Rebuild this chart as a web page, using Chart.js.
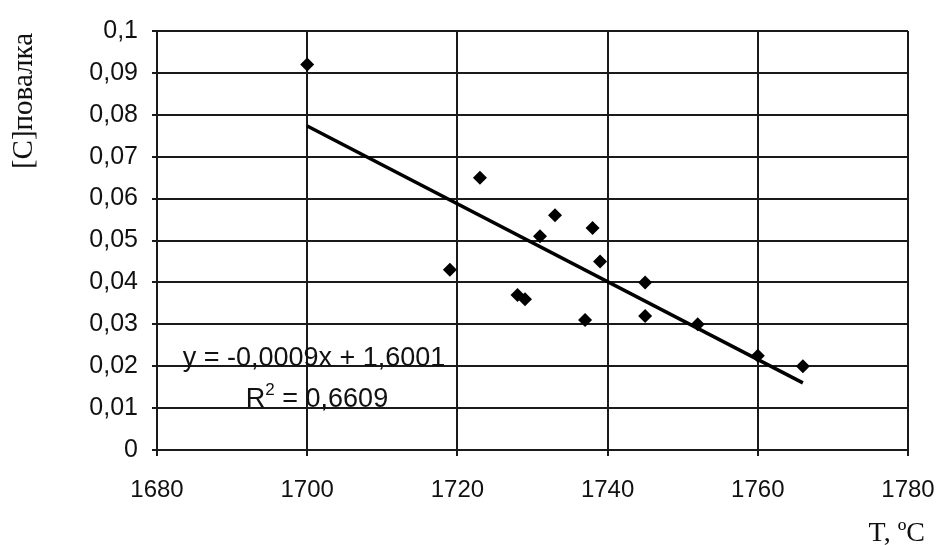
<!DOCTYPE html>
<html>
<head>
<meta charset="utf-8">
<script src="https://cdn.jsdelivr.net/npm/chart.js@4/dist/chart.umd.min.js"></script>
<style>
  html, body { margin: 0; padding: 0; background: #fff; }
  canvas { display: block; }
</style>
</head>
<body>
<canvas id="myChart" width="939" height="545"></canvas>
<script>
// temperature, deg C
const tempX = [1700, 1719, 1723, 1728, 1729, 1731, 1733, 1737, 1738, 1739, 1745, 1745, 1752, 1760, 1766]
// carbon in the sample
const carbonY = [0.092, 0.043, 0.065, 0.037, 0.036, 0.051, 0.056, 0.031, 0.053, 0.045, 0.040, 0.032, 0.030, 0.0225, 0.020]

const xTicks = [1680, 1700, 1720, 1740, 1760, 1780]
const yTicks = [0, 0.01, 0.02, 0.03, 0.04, 0.05, 0.06, 0.07, 0.08, 0.09, 0.1]

const yTitle = '[C]повалка'
const xTitle = 'T, ºC'
const eqText = 'y = -0,0009x + 1,6001'
const r2Base = 'R'
const r2Sup = '2'
const r2Rest = ' = 0,6609'

// linear trend (least squares) through the points
const n = tempX.length
const mx = tempX.reduce((a, b) => a + b, 0) / n
const my = carbonY.reduce((a, b) => a + b, 0) / n
let sxx = 0, sxy = 0
for (let i = 0; i < n; i++) {
  sxx += (tempX[i] - mx) * (tempX[i] - mx)
  sxy += (tempX[i] - mx) * (carbonY[i] - my)
}
const slope = sxy / sxx
const icept = my - slope * mx
const xMin = Math.min(...tempX), xMax = Math.max(...tempX)
const trend = [
  { x: xMin, y: icept + slope * xMin },
  { x: xMax, y: icept + slope * xMax }
]

const points = tempX.map((x, i) => ({ x: x, y: carbonY[i] }))

const gridCol = '#1a1a1a'
const sans = '"Liberation Sans", Arial, sans-serif'
const serif = '"Liberation Serif", "Times New Roman", serif'

const textPlugin = {
  id: 'texts',
  afterDraw(chart) {
    const ctx = chart.ctx
    ctx.save()
    ctx.fillStyle = '#111'
    // y title, rotated
    ctx.font = '29px ' + serif
    ctx.translate(24, 101)
    ctx.rotate(-Math.PI / 2)
    ctx.textAlign = 'center'
    ctx.textBaseline = 'middle'
    ctx.fillText(yTitle, 0, 0)
    ctx.restore()

    ctx.save()
    ctx.fillStyle = '#111'
    ctx.font = '28px ' + serif
    ctx.textAlign = 'right'
    ctx.textBaseline = 'alphabetic'
    ctx.fillText(xTitle, 925, 541)

    // equation
    ctx.font = '27px ' + sans
    ctx.textAlign = 'center'
    ctx.fillText(eqText, 314, 366)

    // R^2 line with a real superscript
    ctx.textAlign = 'left'
    const wR = ctx.measureText(r2Base).width
    const wRest = ctx.measureText(r2Rest).width
    ctx.font = '17px ' + sans
    const wSup = ctx.measureText(r2Sup).width
    let x0 = 317 - (wR + wSup + wRest) / 2
    ctx.font = '27px ' + sans
    ctx.fillText(r2Base, x0, 407)
    ctx.font = '17px ' + sans
    ctx.fillText(r2Sup, x0 + wR, 395)
    ctx.font = '27px ' + sans
    ctx.fillText(r2Rest, x0 + wR + wSup, 407)
    ctx.restore()
  }
}

const ctx = document.getElementById('myChart').getContext('2d')

new Chart(ctx, {
  type: 'scatter',
  data: {
    datasets: [
      {
        label: 'points',
        data: points,
        pointStyle: 'rectRot',
        pointRadius: 7,
        backgroundColor: '#000',
        borderColor: '#000',
        borderWidth: 0,
        order: 1
      },
      {
        type: 'line',
        label: 'trend',
        data: trend,
        borderColor: '#000',
        borderWidth: 3.5,
        pointRadius: 0,
        fill: false,
        order: 2
      }
    ]
  },
  options: {
    responsive: false,
    animation: false,
    layout: { padding: { left: 0, top: 31, right: 31, bottom: 0 } },
    plugins: {
      legend: { display: false },
      tooltip: { enabled: false }
    },
    scales: {
      x: {
        type: 'linear',
        min: 1680,
        max: 1780,
        afterBuildTicks: s => { s.ticks = xTicks.map(v => ({ value: v })) },
        afterFit: s => {
          s.height = 95
          s.paddingLeft = 0
          s.paddingRight = 0
        },
        grid: { color: gridCol, lineWidth: 2, tickLength: 6 },
        border: { color: gridCol, width: 2 },
        ticks: {
          color: '#111',
          font: { family: sans, size: 24 },
          padding: 20,
          maxRotation: 0,
          callback: v => String(v)
        }
      },
      y: {
        min: 0,
        max: 0.1,
        afterBuildTicks: s => { s.ticks = yTicks.map(v => ({ value: v })) },
        afterFit: s => {
          s.width = 157
          s.paddingTop = 0
          s.paddingBottom = 0
        },
        grid: { color: gridCol, lineWidth: 2, tickLength: 5 },
        border: { color: gridCol, width: 2 },
        ticks: {
          color: '#111',
          font: { family: sans, size: 25 },
          padding: 14,
          callback: v => String(Number(v.toFixed(2))).replace('.', ',')
        }
      }
    }
  },
  plugins: [textPlugin]
})
</script>
</body>
</html>
